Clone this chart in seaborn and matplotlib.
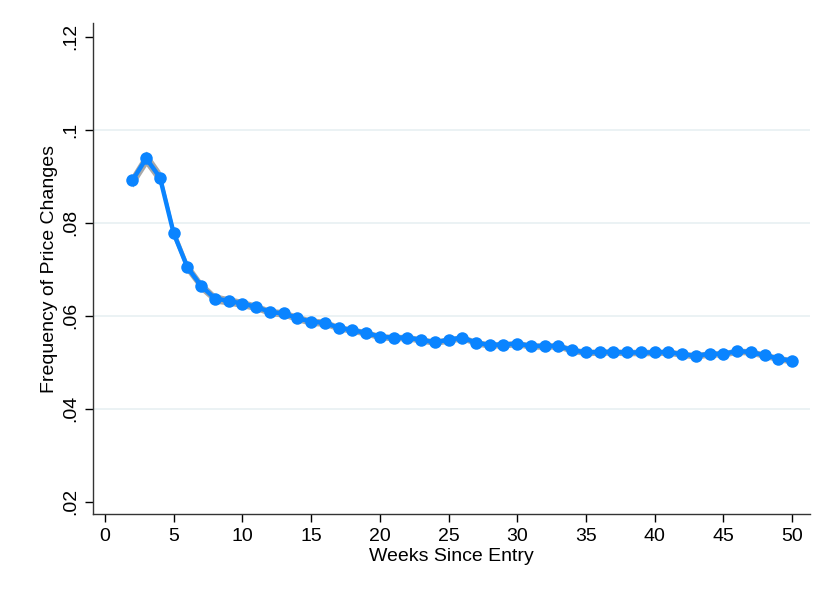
import matplotlib
matplotlib.use("Agg")
import matplotlib.pyplot as plt
import seaborn as sns
import pandas as pd

# Weekly frequency of price changes after product entry
weeks = list(range(2, 51))
freq = [0.0891, 0.0938, 0.0897, 0.0777, 0.0704, 0.0664, 0.0637, 0.0632, 0.0626, 0.0619,
        0.0608, 0.0605, 0.0595, 0.0587, 0.0585, 0.0574, 0.0569, 0.0563, 0.0555, 0.0553,
        0.0553, 0.0548, 0.0543, 0.0548, 0.0553, 0.0542, 0.0537, 0.0538, 0.0540, 0.0535,
        0.0535, 0.0535, 0.0526, 0.0521, 0.0522, 0.0522, 0.0521, 0.0521, 0.0521, 0.0522,
        0.0517, 0.0514, 0.0518, 0.0518, 0.0524, 0.0522, 0.0515, 0.0508, 0.0503]
# Half-width of the 95% confidence band
ci_half = [0.0015, 0.0016, 0.0015, 0.0013, 0.0012, 0.0011, 0.0010, 0.0009, 0.0009, 0.0008,
           0.0008, 0.0008, 0.0008, 0.0008, 0.0008, 0.0007, 0.0007, 0.0007, 0.0007, 0.0007,
           0.0007, 0.0007, 0.0007, 0.0007, 0.0007, 0.0007, 0.0007, 0.0007, 0.0007, 0.0007,
           0.0007, 0.0007, 0.0007, 0.0007, 0.0007, 0.0007, 0.0007, 0.0007, 0.0007, 0.0007,
           0.0007, 0.0007, 0.0007, 0.0007, 0.0007, 0.0007, 0.0007, 0.0007, 0.0007]
x_ticks = [0, 5, 10, 15, 20, 25, 30, 35, 40, 45, 50]
y_ticks = [0.02, 0.04, 0.06, 0.08, 0.10, 0.12]
y_tick_labels = [".02", ".04", ".06", ".08", ".1", ".12"]

df = pd.DataFrame({"week": weeks, "freq": freq,
                   "lo": [f - h for f, h in zip(freq, ci_half)],
                   "hi": [f + h for f, h in zip(freq, ci_half)]})

sns.set_style("white")
plt.rcParams["font.family"] = ["Liberation Sans", "DejaVu Sans"]
plt.rcParams["text.color"] = "black"
plt.rcParams["axes.labelcolor"] = "black"
plt.rcParams["xtick.color"] = "black"
plt.rcParams["ytick.color"] = "black"

fig = plt.figure(figsize=(8.14, 5.92), dpi=100)
ax = fig.add_axes([0.1143, 0.1318, 0.8807, 0.8293])

# light horizontal grid lines at interior ticks
for yv in y_ticks[1:-1]:
    ax.axhline(yv, color="#E8F0F2", lw=1.2, zorder=0)

ax.fill_between(df["week"], df["lo"], df["hi"], color="#A8A8A8", lw=0, zorder=1)
sns.lineplot(data=df, x="week", y="freq", ax=ax, color="#0A84FF", lw=3.2,
             marker="o", markersize=9, markeredgewidth=0, zorder=3)

ax.set_xlim(-0.87, 51.3)
ax.set_ylim(0.0174, 0.1229)
ax.set_xticks(x_ticks)
ax.set_xticklabels([str(t) for t in x_ticks], fontsize=14)
ax.set_yticks(y_ticks)
ax.set_yticklabels(y_tick_labels, fontsize=14, rotation=90, va="center")
ax.tick_params(axis="both", direction="out", length=6, width=1,
               bottom=True, left=True, pad=4)
ax.set_xlabel("Weeks Since Entry", fontsize=14, labelpad=2)
ax.set_ylabel("Frequency of Price Changes", fontsize=14, labelpad=3)

for side in ["top", "right"]:
    ax.spines[side].set_visible(False)
for side in ["left", "bottom"]:
    ax.spines[side].set_color("#333333")
    ax.spines[side].set_linewidth(1)

fig.savefig("out.png", dpi=100, facecolor="white")
